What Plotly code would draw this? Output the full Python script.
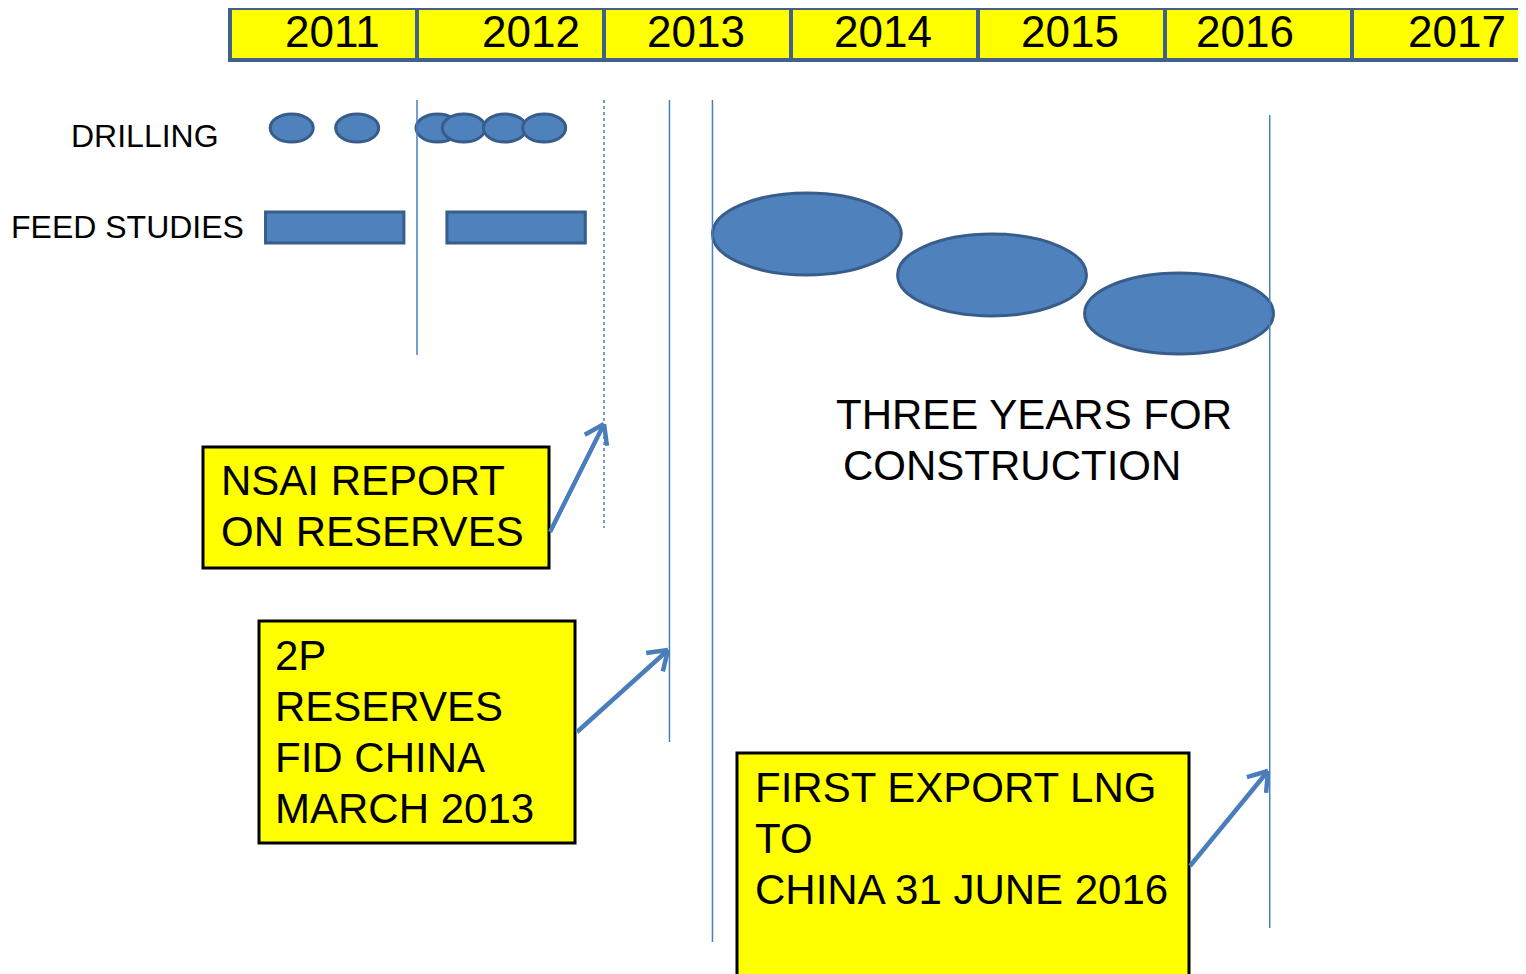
import math
import plotly.graph_objects as go

# timeline header
years = [2011, 2012, 2013, 2014, 2015, 2016, 2017]
label_x = [2011.55, 2012.61, 2013.49, 2014.49, 2015.49, 2016.43, 2017.56]

# activities (in years)
drill_rows = ["DRILLING", "FEED STUDIES"]
drill_times = [2011.33, 2011.68, 2012.11, 2012.25, 2012.47, 2012.68]
feed_start = [2011.19, 2012.16]
feed_end = [2011.93, 2012.90]
build_start = [2013.58, 2014.57, 2015.57]
build_end = [2014.59, 2015.58, 2016.58]

# milestone lines
milestones = [2012.0, 2013.0, 2013.35, 2013.58, 2016.56]
milestone_dash = ["solid", "dot", "solid", "solid", "solid"]

nsai_text = ["NSAI REPORT", "ON RESERVES"]
fid_text = ["2P", "RESERVES", "FID CHINA", "MARCH 2013"]
export_text = ["FIRST EXPORT LNG", "TO", "CHINA 31 JUNE 2016"]
build_text = ["THREE YEARS FOR", "CONSTRUCTION"]

W, H = 1526, 974
PAD = 8      # page body margin
X0 = 230.0   # pixel of 2011
YW = 187.0   # pixels per year


def yr(px):
    return 2011 + (px - X0) / YW


FONT = "Liberation Sans, Arial, sans-serif"
BLUE = "#4f81bd"
DKBLUE = "#385d8a"
LINE = "#4a7ebb"

fig = go.Figure()
fig.add_trace(go.Scatter(x=[yr(PAD), yr(W)], y=[PAD, H], mode="markers",
                         marker=dict(opacity=0), hoverinfo="skip"))
shapes = []
ann = []

# header cells
for i, y in enumerate(years):
    shapes.append(dict(type="rect", x0=y, x1=y + 1, y0=8, y1=60,
                       fillcolor="#ffff00", line=dict(color="#41608c", width=4)))
    ann.append(dict(x=label_x[i], y=31, text=str(y), showarrow=False, height=44,
                    font=dict(size=44, color="black", family=FONT)))

# row labels
ann.append(dict(x=yr(221), y=136, text=drill_rows[0], showarrow=False, xanchor="right",
                font=dict(size=32, color="black", family=FONT)))
ann.append(dict(x=yr(246), y=227, text=drill_rows[1], showarrow=False, xanchor="right",
                font=dict(size=32, color="black", family=FONT)))

# drilling ellipses
for t in drill_times:
    shapes.append(dict(type="circle", x0=t - 0.115, x1=t + 0.115, y0=114, y1=142,
                       fillcolor=BLUE, line=dict(color=DKBLUE, width=3)))

# feed bars
for a, b in zip(feed_start, feed_end):
    shapes.append(dict(type="rect", x0=a, x1=b, y0=212, y1=243,
                       fillcolor=BLUE, line=dict(color=DKBLUE, width=3)))

# construction ellipses
build_y = [(193, 275), (234, 316), (273, 354)]
for (a, b), (y0, y1) in zip(zip(build_start, build_end), build_y):
    shapes.append(dict(type="circle", x0=a, x1=b, y0=y0, y1=y1,
                       fillcolor=BLUE, line=dict(color=DKBLUE, width=3)))

# milestone lines
line_y = [(100, 355), (100, 528), (100, 742), (100, 942), (115, 928)]
for m, d, (y0, y1) in zip(milestones, milestone_dash, line_y):
    shapes.append(dict(type="line", x0=m, x1=m, y0=y0, y1=y1,
                       line=dict(color=LINE, width=1.5, dash=d)))

# text boxes
boxes = [
    (203, 549, 447, 568, nsai_text, 219, 480),
    (259, 575, 621, 843, fid_text, 273, 655),
    (737, 1189, 753, 990, export_text, 753, 787),
]
for x0, x1, y0, y1, lines, tx, ty in boxes:
    shapes.append(dict(type="rect", x0=yr(x0), x1=yr(x1), y0=y0, y1=y1,
                       fillcolor="#ffff00", line=dict(color="black", width=3)))
    for k, s in enumerate(lines):
        ann.append(dict(x=yr(tx), y=ty + k * 51, text=s, showarrow=False, xanchor="left",
                        font=dict(size=42, color="black", family=FONT)))

ann.append(dict(x=yr(834), y=414, text=build_text[0], showarrow=False, xanchor="left",
                font=dict(size=42, color="black", family=FONT)))
ann.append(dict(x=yr(841), y=465, text=build_text[1], showarrow=False, xanchor="left",
                font=dict(size=42, color="black", family=FONT)))

# arrows with open heads
arrows = [((550, 532), (604, 424)), ((577, 732), (668, 650)), ((1190, 866), (1268, 771))]
for (ax_, ay_), (hx, hy) in arrows:
    shapes.append(dict(type="line", x0=yr(ax_), y0=ay_, x1=yr(hx), y1=hy,
                       line=dict(color=LINE, width=4.5)))
    ang = math.atan2(ay_ - hy, ax_ - hx)
    for s in (-0.6, 0.6):
        ex = hx + 22 * math.cos(ang + s)
        ey = hy + 22 * math.sin(ang + s)
        shapes.append(dict(type="line", x0=yr(hx), y0=hy, x1=yr(ex), y1=ey,
                           line=dict(color=LINE, width=4.5)))

fig.update_layout(
    width=W - PAD, height=H - PAD,
    margin=dict(l=0, r=0, t=0, b=0),
    plot_bgcolor="white", paper_bgcolor="white",
    showlegend=False,
    shapes=shapes, annotations=ann,
    xaxis=dict(range=[yr(PAD), yr(W)], visible=False, fixedrange=True),
    yaxis=dict(range=[H, PAD], visible=False, fixedrange=True),
)
fig.write_html("out.html")
